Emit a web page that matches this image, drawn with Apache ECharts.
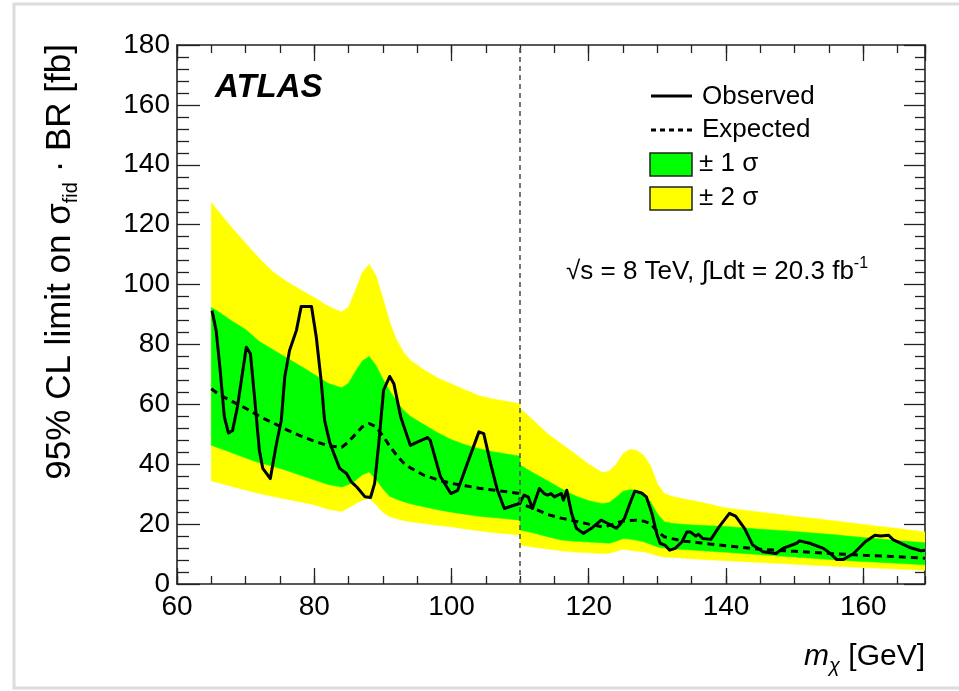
<!DOCTYPE html>
<html>
<head>
<meta charset="utf-8">
<script src="https://cdn.jsdelivr.net/npm/echarts@6/dist/echarts.min.js"></script>
<style>
html,body{margin:0;padding:0;background:#fff;}
#chart{width:959px;height:691px;}
</style>
</head>
<body>
<div id="chart"></div>
<script>
// ---- Data ----
const bandX = [65,66,68,70,72,74,76,78,80,82,84,85,86,87,88,89,90,91,92,93,94,96,98,100,102,104,106,108,110,110,112,114,116,118,120,122,123,124,125,126,127,128,129,130,131,132,134,136,140,145,150,155,160,165,169];
const yellowUpper = [127.4,124.5,119,113.8,108.7,104.2,101,98.3,95.7,92.8,90.8,92.5,98,104,106.8,103,95.5,87.5,81.5,77.5,74.7,71.5,68.8,66.8,64.8,62.9,61.8,61,60.2,58.6,54.5,50.2,46.8,43.5,40,37.2,37.7,40,43.5,45,44.6,43,39.5,33.5,30.2,29.3,28.3,27.5,25.4,24,22.6,21.3,19.9,18.5,17.4];
const greenUpper = [92.3,91,87.8,85,81,78.2,75.5,72.8,70,67,65.5,67,71,74.5,76,73,68.5,64.5,61,58,56,53.2,50.5,48.2,46.5,45.2,44.2,43.4,42.7,39.7,37,34.5,31.8,29.5,27.8,26.8,27.2,29,31,31.5,31.4,30,27.5,23.5,20.8,20.3,19.9,19.6,19.2,18.3,17.5,16.6,15.5,14.5,13.8];
const greenLower = [46.3,45.5,43.8,42.1,40.5,39.3,37.9,36.3,34.8,33.2,32.4,33.2,34.6,36.5,37.4,35,31.8,29.3,28.3,27.5,26.8,25.8,24.8,24,23.3,22.6,22.2,21.8,21.3,18,17,15.8,14.7,14.3,14,13.8,13.6,14.3,15.2,15,14.6,14.1,13.3,12.4,12,11.8,11.5,11.2,10.6,9.8,9,8.2,7.5,6.9,6.4];
const yellowLower = [34.4,33.8,32.6,31.4,30.2,29.2,28.3,27.4,26.5,25,24.2,25.5,26.8,28,28.6,26.5,24,22.5,21.8,21.2,20.8,20.2,19.6,19.1,18.4,17.8,17.2,16.8,16.3,13,12.3,11.7,11.1,10.7,10.4,10.2,10.3,11,11.6,11.3,11,10.8,10.2,9.4,9,8.9,8.6,8.3,7.8,7.2,6.6,6,5.5,5,4.6];
const expected = [65.2,63.5,61,58.7,56,53.8,51.5,49.5,47.7,46.2,45.6,47.5,50,52.5,53.6,52.5,49.5,46,43,40.5,38.8,36.3,34.8,33.6,32.8,32,31.4,30.8,30.2,26.9,25.2,23.2,22,21,20,19.1,19.5,20.4,21,21.2,21.3,21,20.2,17.5,15.8,15.2,14.3,13.8,12.8,11.6,10.9,10.2,9.6,9.1,8.6];
const obsX = [65.1,65.7,66.2,66.9,67.5,68.1,68.8,70.1,70.7,71.3,72.0,72.5,73.6,74.5,75.2,75.7,76.4,77.4,78.1,79.6,80.3,81.0,81.5,82.3,83.7,84.7,85.4,86.2,87.4,88.2,88.8,89.4,90.1,91.0,91.6,92.6,94.0,95.0,96.5,96.9,98.4,99.9,100.9,102.3,104.0,104.7,105.7,106.7,107.7,109.1,109.9,110.6,111.2,111.8,112.8,113.5,114.0,114.5,115.0,115.5,116.0,116.3,116.8,117.5,118.2,119.2,120.4,121.8,122.8,124.0,124.5,125.2,126.0,126.7,127.7,128.4,129.2,129.9,130.4,131.1,131.8,132.6,133.6,134.3,134.8,135.6,136.0,136.6,137.8,139.0,140.5,141.4,142.7,143.9,145.4,147.3,148.3,150.3,150.7,152.2,154.2,155.2,156.1,157.1,158.6,160.3,161.7,162.5,163.7,164.4,165.5,166.9,168.4,169.0];
const obsY = [91.3,84.7,73.6,55.8,50.4,51.3,59.1,79.1,76.9,62.4,44.7,38.6,35.2,46.9,54.7,69.1,78,84.7,92.7,92.7,82.4,68,54.7,46.9,38.6,36.9,34.1,32.4,29.1,28.9,33.6,46.9,64.7,69.3,66.9,55.8,46.3,47.4,48.9,48,35.8,30.2,31.3,40.2,50.8,50.2,40.2,31.3,25.2,26.3,26.9,29.7,29.0,25.2,31.9,30.2,29.7,30.2,29.1,29.7,30.2,28,31.3,23.6,18.6,16.9,18.6,21.3,20.2,18.6,19.7,21.9,26.9,31,30.4,29.1,23.6,16.9,13.6,13,11.3,11.9,14.1,17.4,17.4,16,16.6,15.2,14.9,19.1,23.6,22.7,18.6,13,10.8,10.2,11.9,13.6,14.4,13.6,11.9,10.2,8.2,8.2,10.2,14.1,16.3,16,16.3,14.7,13.6,12.1,11.1,11.3];
const cutX = 110;
const xMin = 60, xMax = 169, yMin = 0, yMax = 180;
const legendLabels = ['Observed', 'Expected', '\u00b1 1 \u03c3', '\u00b1 2 \u03c3'];

const FONT = '"Liberation Sans", Arial, Helvetica, sans-serif';
const YELLOW = '#ffff00', GREEN = '#00ff00';
const AX = '#222';

function bandSeries(upper, lower, color) {
  return {
    type: 'custom', silent: true, z: 1, clip: true,
    xAxisIndex: 0, yAxisIndex: 0,
    data: bandX.map((x, i) => [x, upper[i]]),
    renderItem: function (params, api) {
      if (params.dataIndex !== 0) return;
      const pts = [];
      for (let i = 0; i < bandX.length; i++) pts.push(api.coord([bandX[i], upper[i]]));
      for (let i = bandX.length - 1; i >= 0; i--) pts.push(api.coord([bandX[i], lower[i]]));
      return { type: 'polygon', shape: { points: pts }, style: { fill: color, stroke: color, lineWidth: 0.5 } };
    }
  };
}

function xAx(pos, interval, len, major) {
  return {
    type: 'value', position: pos, min: xMin, max: xMax, interval: interval,
    axisLine: { show: major, onZero: false, lineStyle: { color: AX, width: 1.6 } },
    axisTick: { show: true, inside: true, length: len, lineStyle: { color: AX, width: 1.3 } },
    axisLabel: { show: major && pos === 'bottom', margin: 9, fontSize: 28, color: '#000', fontFamily: FONT, showMaxLabel: false },
    splitLine: { show: false }
  };
}
function yAx(pos) {
  return {
    type: 'value', position: pos, min: yMin, max: yMax, interval: 20,
    axisLine: { show: true, onZero: false, lineStyle: { color: AX, width: 1.6 } },
    axisTick: { show: true, inside: true, length: pos === 'left' ? 23 : 21, lineStyle: { color: AX, width: 1.3 } },
    minorTick: { show: true, splitNumber: 5, length: pos === 'left' ? 12 : 10, lineStyle: { color: AX, width: 1.3 } },
    axisLabel: { show: pos === 'left', margin: 7, fontSize: 28, color: '#000', fontFamily: FONT },
    splitLine: { show: false }, minorSplitLine: { show: false }
  };
}

const chart = echarts.init(document.getElementById('chart'), null, { renderer: 'canvas' });
chart.setOption({
  animation: false,
  backgroundColor: '#fff',
  grid: { left: 177, right: 34, top: 45, bottom: 107, containLabel: false },
  xAxis: [xAx('bottom', 20, 16, true), xAx('bottom', 5, 8, false), xAx('top', 20, 16, true), xAx('top', 5, 8, false)],
  yAxis: [yAx('left'), yAx('right')],
  series: [
    bandSeries(yellowUpper, yellowLower, YELLOW),
    bandSeries(greenUpper, greenLower, GREEN),
    {
      type: 'line', name: 'Expected', z: 3, showSymbol: false, symbol: 'none', silent: true,
      data: bandX.map((x, i) => [x, expected[i]]),
      lineStyle: { color: '#000', width: 3, type: [7, 5] }
    },
    {
      type: 'line', name: 'Observed', z: 4, showSymbol: false, symbol: 'none', silent: true,
      data: obsX.map((x, i) => [x, obsY[i]]),
      lineStyle: { color: '#000', width: 3, join: 'round' },
      markLine: {
        silent: true, symbol: 'none', label: { show: false }, z: 5,
        lineStyle: { color: '#555', width: 1.6, type: [5, 4] },
        data: [{ xAxis: cutX }]
      }
    }
  ],
  graphic: [
    { type: 'rect', z: -10, silent: true, shape: { x: 14, y: 4, width: 960, height: 684 }, style: { fill: 'none', stroke: '#dcdcdc', lineWidth: 3 } },
    { type: 'text', x: 215, y: 88, silent: true, style: { text: 'ATLAS', font: 'italic bold 33px ' + FONT, fill: '#000', align: 'left', verticalAlign: 'middle', textAlign: 'left', textVerticalAlign: 'middle' } },
    // legend
    { type: 'line', silent: true, shape: { x1: 651, y1: 96, x2: 692, y2: 96 }, style: { stroke: '#000', lineWidth: 3 } },
    { type: 'text', x: 702, y: 97, silent: true, style: { text: legendLabels[0], font: '26px ' + FONT, fill: '#000', align: 'left', verticalAlign: 'middle', textAlign: 'left', textVerticalAlign: 'middle' } },
    { type: 'line', silent: true, shape: { x1: 651, y1: 130, x2: 692, y2: 130 }, style: { stroke: '#000', lineWidth: 3, lineDash: [5, 4] } },
    { type: 'text', x: 702, y: 130, silent: true, style: { text: legendLabels[1], font: '26px ' + FONT, fill: '#000', align: 'left', verticalAlign: 'middle', textAlign: 'left', textVerticalAlign: 'middle' } },
    { type: 'rect', silent: true, shape: { x: 650, y: 153, width: 42, height: 23 }, style: { fill: GREEN, stroke: '#222', lineWidth: 1.5 } },
    { type: 'text', x: 699, y: 164, silent: true, style: { text: legendLabels[2], font: '26px ' + FONT, fill: '#000', align: 'left', verticalAlign: 'middle', textAlign: 'left', textVerticalAlign: 'middle' } },
    { type: 'rect', silent: true, shape: { x: 650, y: 187, width: 42, height: 23 }, style: { fill: YELLOW, stroke: '#222', lineWidth: 1.5 } },
    { type: 'text', x: 699, y: 198, silent: true, style: { text: legendLabels[3], font: '26px ' + FONT, fill: '#000', align: 'left', verticalAlign: 'middle', textAlign: 'left', textVerticalAlign: 'middle' } },
    // energy / luminosity
    { type: 'text', x: 566, y: 272, silent: true, style: {
        text: '{n|\u221as = 8 TeV, \u222bLdt = 20.3 fb}{s|-1}', align: 'left', verticalAlign: 'middle', textAlign: 'left', textVerticalAlign: 'middle',
        rich: { n: { fontSize: 26, fontFamily: FONT, fill: '#000', color: '#000', lineHeight: 32 },
                s: { fontSize: 16, fontFamily: FONT, fill: '#000', color: '#000', lineHeight: 16, verticalAlign: 'top' } } } },
    // y axis title
    { type: 'text', x: 60, y: 44, rotation: Math.PI / 2, silent: true, style: {
        text: '{n|95% CL limit on \u03c3}{s|fid}{n| \u00b7 BR [fb]}', align: 'right', verticalAlign: 'middle', textAlign: 'right', textVerticalAlign: 'middle',
        rich: { n: { fontSize: 35, fontFamily: FONT, fill: '#000', color: '#000', lineHeight: 42 },
                s: { fontSize: 20, fontFamily: FONT, fill: '#000', color: '#000', lineHeight: 18, verticalAlign: 'bottom' } } } },
    // x axis title
    { type: 'text', x: 925, y: 657, silent: true, style: {
        text: '{i|m}{s|\u03c7}{n| [GeV]}', align: 'right', verticalAlign: 'middle', textAlign: 'right', textVerticalAlign: 'middle',
        rich: { i: { fontSize: 30, fontStyle: 'italic', fontFamily: FONT, fill: '#000', color: '#000', lineHeight: 38 },
                s: { fontSize: 20, fontStyle: 'italic', fontFamily: FONT, fill: '#000', color: '#000', lineHeight: 18, verticalAlign: 'bottom' },
                n: { fontSize: 30, fontFamily: FONT, fill: '#000', color: '#000', lineHeight: 38 } } } }
  ]
});
</script>
</body>
</html>
